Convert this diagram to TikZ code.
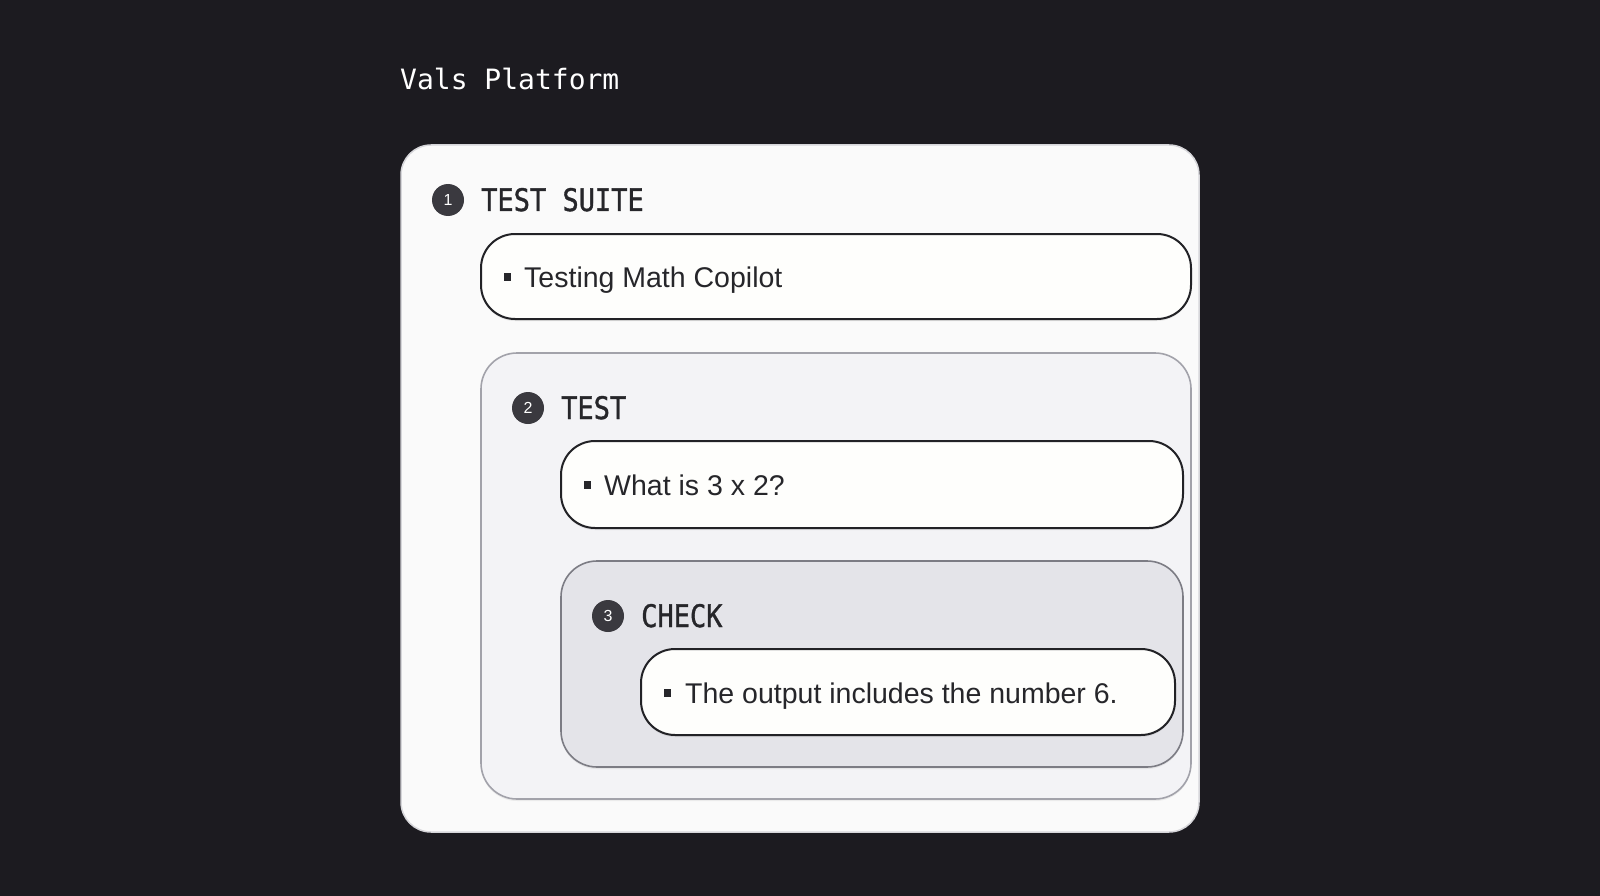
\documentclass[tikz,border=0pt]{standalone}
\usepackage{fontspec}
\setmainfont{Liberation Sans}
\newfontfamily\titlemono{DejaVu Sans Mono}
\newfontfamily\headmono[FakeBold=1.2]{DejaVu Sans Mono}
\usetikzlibrary{shadows}
\definecolor{bgdark}{HTML}{1C1B20}
\definecolor{outerfill}{HTML}{FAFAFA}
\definecolor{outerline}{HTML}{D6D6DA}
\definecolor{midfill}{HTML}{F3F3F6}
\definecolor{midline}{HTML}{A2A2AA}
\definecolor{innerfill}{HTML}{E4E4E9}
\definecolor{innerline}{HTML}{7C7C84}
\definecolor{cardfill}{HTML}{FEFEFC}
\definecolor{cardline}{HTML}{222226}
\definecolor{inktext}{HTML}{26262A}
\definecolor{badgefill}{HTML}{3A393F}
\tikzset{
  container/.style={draw, rectangle, rounded corners=#1, inner sep=0pt},
  outerbox/.style={container=30pt, fill=outerfill, draw=outerline, line width=1.5pt},
  midbox/.style={container=36pt, fill=midfill, draw=midline, line width=1.6pt,
    drop shadow={shadow xshift=0pt, shadow yshift=-2pt, opacity=0.12}},
  innerbox/.style={container=36pt, fill=innerfill, draw=innerline, line width=1.6pt,
    drop shadow={shadow xshift=0pt, shadow yshift=-2pt, opacity=0.12}},
  card/.style={container=34pt, fill=cardfill, draw=cardline, line width=2pt,
    drop shadow={shadow xshift=0pt, shadow yshift=-2pt, opacity=0.15}},
  badge/.style={circle, fill=badgefill, minimum size=32pt, inner sep=0pt,
    text=white, font=\fontsize{16}{16}\selectfont},
  heading/.style={anchor=base west, inner sep=0pt, text=inktext,
    font=\fontsize{27}{27}\headmono},
  bodytext/.style={anchor=base west, inner sep=0pt, text=inktext,
    font=\fontsize{28.5}{28.5}\selectfont},
  bulletsq/.style={rectangle, fill=inktext, minimum size=7.5pt, inner sep=0pt},
}
\begin{document}
\begin{tikzpicture}[x=1pt, y=-1pt]
\useasboundingbox[fill=bgdark] (0,0) rectangle (1600,896);

\node[anchor=base west, inner sep=0pt, text=white, font=\fontsize{28}{28}\titlemono] (title) at (400,90) {Vals Platform};

\node[outerbox, minimum width=798pt, minimum height=687pt] (outer) at (800,488.5) {};

% level 1
\node[badge] (b1) at (448,200) {1};
\node[heading] (h1) at (481,211) {\scalebox{1}[1.15]{TEST SUITE}};
\node[card, minimum width=710pt, minimum height=85pt] (c1) at (836,276.5) {};
\node[bulletsq] (s1) at (507.5,277) {};
\node[bodytext] (t1) at (524,287) {Testing Math Copilot};

% level 2
\node[midbox, minimum width=710pt, minimum height=446pt] (m2) at (836,576) {};
\node[badge] (b2) at (528,408) {2};
\node[heading] (h2) at (561,419) {\scalebox{1}[1.15]{TEST}};
\node[card, minimum width=622pt, minimum height=87pt] (c2) at (872,484.5) {};
\node[bulletsq] (s2) at (587.5,485) {};
\node[bodytext] (t2) at (604,495) {What is 3 x 2?};

% level 3
\node[innerbox, minimum width=622pt, minimum height=206pt] (m3) at (872,664) {};
\node[badge] (b3) at (608,616) {3};
\node[heading] (h3) at (641,627) {\scalebox{1}[1.15]{CHECK}};
\node[card, minimum width=534pt, minimum height=86pt] (c3) at (908,692) {};
\node[bulletsq] (s3) at (667.5,693) {};
\node[bodytext] (t3) at (685,703) {The output includes the number 6.};
\end{tikzpicture}
\end{document}
